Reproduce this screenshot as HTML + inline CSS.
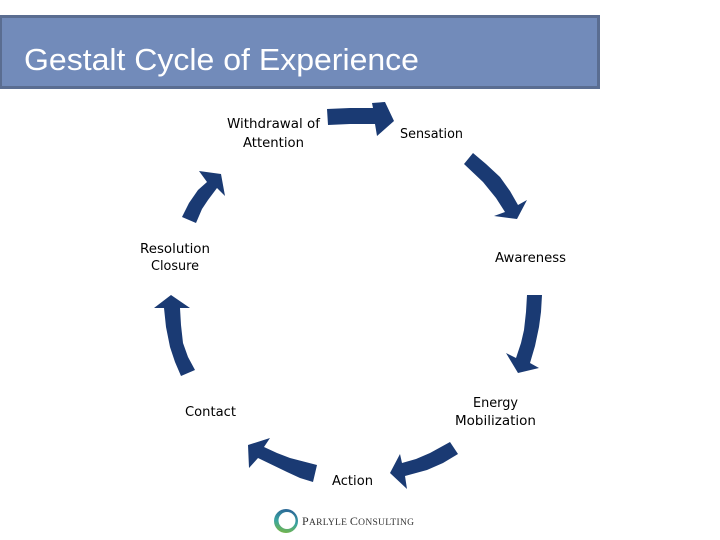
<!DOCTYPE html>
<html>
<head>
<meta charset="utf-8">
<style>
html,body{margin:0;padding:0;background:#fff;width:720px;height:540px;overflow:hidden}
svg{display:block}
.l{font-family:"DejaVu Sans",sans-serif;font-size:13px;fill:#000}
</style>
</head>
<body>
<svg width="720" height="540" viewBox="0 0 720 540" xmlns="http://www.w3.org/2000/svg">
<defs>
<linearGradient id="r" x1="0.6" y1="0" x2="0.4" y2="1">
<stop offset="0" stop-color="#2a6496"/>
<stop offset="0.55" stop-color="#3aa5a0"/>
<stop offset="1" stop-color="#74b44a"/>
</linearGradient>
</defs>
<rect x="0.5" y="16.5" width="598" height="71" fill="#728bba" stroke="#5a6d91" stroke-width="3"/>
<text x="24" y="70" font-family="Liberation Sans, sans-serif" font-size="31" fill="#fff" textLength="395" lengthAdjust="spacingAndGlyphs">Gestalt Cycle of Experience</text>

<g fill="#1a3a73">
<polygon points="327,109 350,108 373,108 372,103 385,102 394,121 377,136 375,124 350,124 328,125"/>
<polygon points="473,153 486,164 500,177 510,191 518,205 527,200 517,219 494,216 505,212 496,198 483,182 464,164"/>
<polygon points="527,295 542,295 541,312 539,327 535,346 530,363 539,368 518,373 506,353 516,358 521,343 524,330 526,312"/>
<polygon points="450,442 458,454 443,463 427,470 405,476 407,489 390,473 400,454 402,463 416,459 430,453"/>
<polygon points="317,465 313,482 300,478 287,472 258,458 249,468 248,445 270,438 264,447 277,453 290,458"/>
<polygon points="195,370 181,376 175,362 170,347 166,327 164,308 154,308 171,295 190,308 180,308 181,325 183,343 188,357"/>
<polygon points="196,223 182,217 189,203 198,190 207,182 199,171 221,174 225,196 217,188 208,200 202,209"/>
</g>

<text class="l" x="227" y="128" textLength="93" lengthAdjust="spacingAndGlyphs">Withdrawal of</text>
<text class="l" x="243" y="147" textLength="61" lengthAdjust="spacingAndGlyphs">Attention</text>
<text class="l" x="400" y="138" textLength="63" lengthAdjust="spacingAndGlyphs">Sensation</text>
<text class="l" x="140" y="253" textLength="70" lengthAdjust="spacingAndGlyphs">Resolution</text>
<text class="l" x="151" y="270" textLength="48" lengthAdjust="spacingAndGlyphs">Closure</text>
<text class="l" x="495" y="262" textLength="71" lengthAdjust="spacingAndGlyphs">Awareness</text>
<text class="l" x="473" y="407" textLength="45" lengthAdjust="spacingAndGlyphs">Energy</text>
<text class="l" x="455" y="425" textLength="81" lengthAdjust="spacingAndGlyphs">Mobilization</text>
<text class="l" x="185" y="416" textLength="51" lengthAdjust="spacingAndGlyphs">Contact</text>
<text class="l" x="332" y="485" textLength="41" lengthAdjust="spacingAndGlyphs">Action</text>

<circle cx="286" cy="521" r="12" fill="url(#r)"/>
<circle cx="287" cy="520.5" r="8.5" fill="#fff"/>
<text x="302" y="525" font-family="Liberation Serif, serif" font-size="9.5" fill="#333" textLength="112" lengthAdjust="spacing"><tspan font-size="12">P</tspan>ARLYLE <tspan font-size="12">C</tspan>ONSULTING</text>
</svg>
</body>
</html>
